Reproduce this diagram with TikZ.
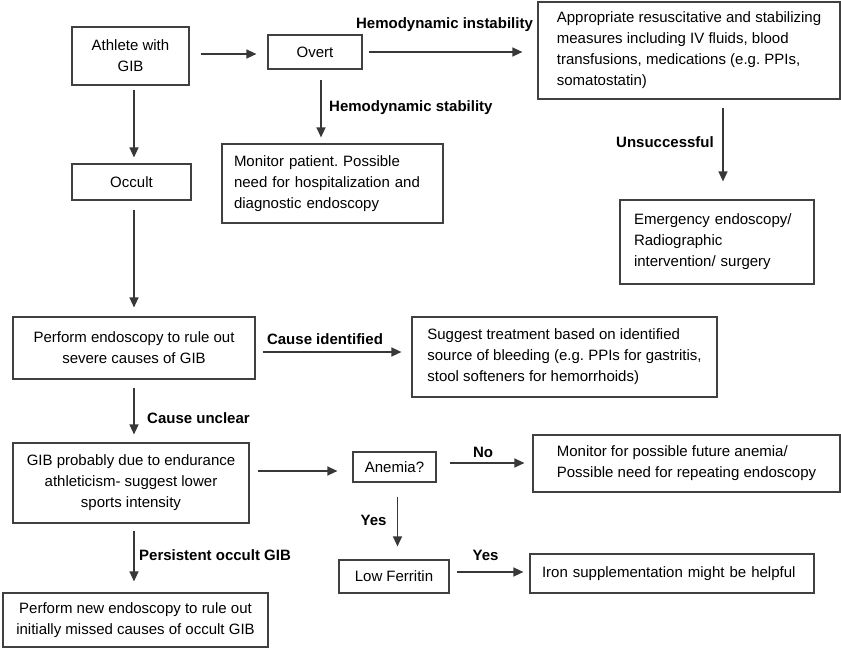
\documentclass[tikz,border=0pt]{standalone}
\usepackage{fontspec}
\setmainfont{Liberation Sans}
\usetikzlibrary{arrows.meta}
\frenchspacing
\begin{document}
\begin{tikzpicture}[x=1pt,y=-1pt,
  font=\fontsize{15}{21}\selectfont,
  box/.style={draw=black!75, line width=1.2pt, inner ysep=0pt, inner xsep=4pt},
  arr/.style={draw=black!78, line width=1.3pt, -{Triangle[length=10pt,width=9pt]}},
  lbl/.style={font=\fontsize{15}{18}\selectfont\bfseries, inner sep=0pt}]
\useasboundingbox (0,0) rectangle (841,649);
% boxes
\node[box, minimum width=117pt, minimum height=58pt, align=center] (athlete) at (130.5,56) {Athlete with\\GIB};
\node[box, minimum width=94pt, minimum height=34pt] (overt) at (315,52) {Overt};
\node[box, minimum width=302pt, minimum height=97pt, align=left] (appr) at (689,50.5) {Appropriate resuscitative and stabilizing\\measures including IV fluids, blood\\transfusions, medications (e.g. PPIs,\\somatostatin)};
\node[box, minimum height=79pt, text width=197pt, inner xsep=12pt, align=left] (monpat) at (332.5,183.5) {Monitor patient. Possible\\need for hospitalization and\\diagnostic endoscopy};
\node[box, minimum width=119pt, minimum height=36pt] (occult) at (131.5,182) {Occult};
\node[box, minimum height=84pt, text width=166pt, inner xsep=14pt, align=left] (emerg) at (717,242) {Emergency endoscopy/\\Radiographic\\intervention/ surgery};
\node[box, minimum width=242pt, minimum height=62pt, align=center] (perf) at (134,348) {Perform endoscopy to rule out\\severe causes of GIB};
\node[box, minimum width=305pt, minimum height=80pt, align=left] (sugg) at (564.5,357) {Suggest treatment based on identified\\source of bleeding (e.g. PPIs for gastritis,\\stool softeners for hemorrhoids)};
\node[box, minimum width=236pt, minimum height=80pt, align=center] (gib) at (131,483) {GIB probably due to endurance\\athleticism- suggest lower\\sports intensity};
\node[box, minimum width=83pt, minimum height=30pt] (anemia) at (394.5,467) {Anemia?};
\node[box, minimum width=307pt, minimum height=57pt, align=left] (monfut) at (686.5,463.5) {Monitor for possible future anemia/\\Possible need for repeating endoscopy};
\node[box, minimum width=110pt, minimum height=33pt] (lowfer) at (394,576.5) {Low Ferritin};
\node[box, minimum height=39pt, text width=260pt, inner xsep=12pt, align=left] (iron) at (672,573.5) {Iron supplementation might be helpful};
\node[box, minimum width=265pt, minimum height=54pt, align=center] (perfnew) at (135.5,620) {Perform new endoscopy to rule out\\initially missed causes of occult GIB};
% labels
\node[lbl] (l1) at (444.5,25) {Hemodynamic instability};
\node[lbl, anchor=west] (l2) at (329,108) {Hemodynamic stability};
\node[lbl] (l3) at (665,142) {Unsuccessful};
\node[lbl] (l4) at (325,339) {Cause identified};
\node[lbl, anchor=west] (l5) at (147,418) {Cause unclear};
\node[lbl] (l6) at (483,452) {No};
\node[lbl] (l7) at (373.5,520) {Yes};
\node[lbl] (l8) at (485.5,555) {Yes};
\node[lbl, anchor=west] (l9) at (139,555) {Persistent occult GIB};
% arrows
\draw[arr, shorten <=11pt, shorten >=11pt] ([yshift=2pt]athlete.east) -- ([yshift=-2pt]overt.west);
\draw[arr, shorten <=6pt, shorten >=15pt] (overt.east) -- (overt.east -| appr.west);
\draw[arr, shorten <=10pt, shorten >=6pt] ([xshift=6pt]overt.south) -- ([xshift=6pt]overt.south |- monpat.north);
\draw[arr, shorten <=4pt, shorten >=6pt] ([xshift=3.5pt]athlete.south) -- ([xshift=3.5pt]athlete.south |- occult.north);
\draw[arr, shorten <=9pt, shorten >=9pt] ([xshift=2.5pt]occult.south) -- ([xshift=2.5pt]occult.south |- perf.north);
\draw[arr, shorten <=8pt, shorten >=18pt] ([xshift=6pt]appr.south -| emerg.north) -- ([xshift=6pt]emerg.north);
\draw[arr, shorten <=7pt, shorten >=10pt] ([yshift=-4pt]perf.east) -- ([yshift=-4pt]perf.east -| sugg.west);
\draw[arr, shorten <=8pt, shorten >=8pt] (perf.south) -- (perf.south |- gib.north);
\draw[arr, shorten <=8pt, shorten >=15pt] ([yshift=-4pt]anemia.west -| gib.east) -- ([yshift=-4pt]anemia.west);
\draw[arr, shorten <=13pt, shorten >=8pt] ([yshift=4pt]anemia.east) -- ([yshift=4pt]anemia.east -| monfut.west);
\draw[arr, shorten <=14pt, shorten >=13pt] ([xshift=3pt]anemia.south) -- ([xshift=3pt]anemia.south |- lowfer.north);
\draw[arr, shorten <=7pt, shorten >=6pt] ([yshift=4.5pt]lowfer.east) -- ([yshift=4.5pt]lowfer.east -| iron.west);
\draw[arr, shorten <=7pt, shorten >=11pt] ([xshift=3pt]gib.south) -- ([xshift=3pt]gib.south |- perfnew.north);
\end{tikzpicture}
\end{document}
